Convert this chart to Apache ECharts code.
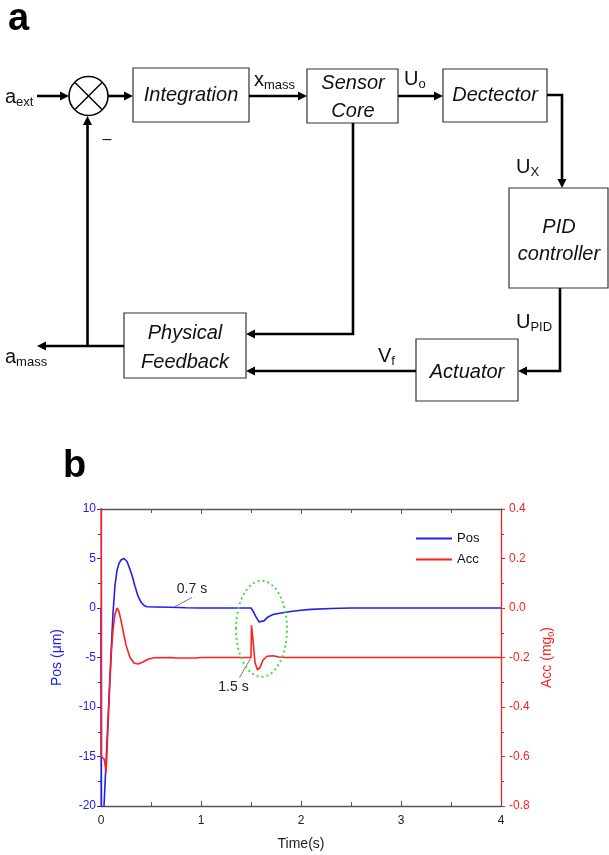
<!DOCTYPE html>
<html>
<head>
<meta charset="utf-8">
<script src="https://cdn.jsdelivr.net/npm/echarts@6/dist/echarts.min.js"></script>
<style>
  html, body { margin: 0; padding: 0; background: #fff; }
  #chart { width: 609px; height: 855px; }
</style>
</head>
<body>
<div id="chart"></div>
<script>
// 数据：位移 (µm) 与加速度 (mg0) 随时间变化
const posTime  = [0, 0.004, 0.02, 0.03, 0.06, 0.09, 0.12, 0.14, 0.16, 0.18, 0.2, 0.23, 0.26, 0.29, 0.31, 0.34, 0.37, 0.4, 0.43, 0.46, 0.55, 0.7, 0.85, 1.0, 1.5, 1.52, 1.55, 1.58, 1.6, 1.63, 1.67, 1.72, 1.8, 1.9, 2.0, 2.1, 2.3, 2.5, 4];
const posValue = [0, -28, -26, -20, -13.5, -6.8, -0.5, 2.3, 3.8, 4.5, 4.85, 5.0, 4.7, 3.9, 3.3, 2.2, 1.2, 0.6, 0.25, 0.12, 0.1, 0.07, 0.03, 0, 0, -0.3, -0.9, -1.4, -1.5, -1.3, -0.9, -0.65, -0.5, -0.35, -0.22, -0.14, -0.05, 0, 0];

const accTime  = [0, 0.004, 0.03, 0.04, 0.05, 0.06, 0.075, 0.09, 0.105, 0.12, 0.14, 0.16, 0.18, 0.2, 0.22, 0.25, 0.29, 0.33, 0.37, 0.42, 0.47, 0.53, 0.7, 0.75, 0.95, 1.0, 1.5, 1.505, 1.52, 1.54, 1.565, 1.59, 1.62, 1.66, 1.72, 1.78, 1.85, 4];
const accValue = [1.2, -0.6, -0.61, -0.63, -0.665, -0.58, -0.43, -0.29, -0.17, -0.09, -0.025, 0.0, -0.015, -0.05, -0.09, -0.15, -0.2, -0.222, -0.226, -0.218, -0.207, -0.201, -0.2, -0.202, -0.202, -0.2, -0.2, -0.07, -0.13, -0.22, -0.25, -0.24, -0.21, -0.195, -0.193, -0.198, -0.2, -0.2];

// 坐标轴范围
const timeRange = [0, 4, 1];
const posRange = [-20, 10, 5];
const accRange = [-0.8, 0.4, 0.2];

// 图中标注
const noteTexts = ['0.7 s', '1.5 s'];
const notePoints = [[0.74, 0.15], [1.505, -0.2]];

const FONT = 'Liberation Sans, Arial, sans-serif';
const BLUE = '#2020ee';
const RED = '#ff1f1f';

const chart = echarts.init(document.getElementById('chart'));

const option = {
  animation: false,
  backgroundColor: '#fff',
  textStyle: { fontFamily: FONT },
  grid: { left: 101, right: 108, top: 509, bottom: 49 },
  legend: {
    orient: 'vertical',
    left: 416,
    top: 532,
    padding: 0,
    icon: 'rect',
    itemWidth: 36,
    itemHeight: 2,
    itemGap: 8,
    textStyle: { fontSize: 13, color: '#111', fontFamily: FONT },
    data: ['Pos', 'Acc']
  },
  xAxis: [
    {
      type: 'value',
      min: timeRange[0], max: timeRange[1], interval: timeRange[2],
      name: 'Time(s)', nameLocation: 'middle', nameGap: 31,
      nameTextStyle: { fontSize: 14, color: '#222' },
      axisLine: { onZero: false, lineStyle: { color: '#555', width: 1.3 } },
      axisTick: { inside: true, length: 5, lineStyle: { color: '#555' } },
      minorTick: { show: true, splitNumber: 2, length: 4, lineStyle: { color: '#555' } },
      axisLabel: { fontSize: 12, color: '#222', margin: 9 },
      splitLine: { show: false }
    },
    {
      type: 'value', position: 'top',
      min: timeRange[0], max: timeRange[1], interval: timeRange[2],
      axisLine: { onZero: false, lineStyle: { color: '#555', width: 1.3 } },
      axisTick: { inside: true, length: 5, lineStyle: { color: '#555' } },
      minorTick: { show: true, splitNumber: 2, length: 4, lineStyle: { color: '#555' } },
      axisLabel: { show: false },
      splitLine: { show: false }
    }
  ],
  yAxis: [
    {
      type: 'value', position: 'left',
      min: posRange[0], max: posRange[1], interval: posRange[2],
      name: 'Pos (μm)', nameLocation: 'middle', nameGap: 37, nameRotate: 90,
      nameTextStyle: { fontSize: 14, color: BLUE },
      axisLine: { show: true, onZero: false, lineStyle: { color: BLUE, width: 1.3 } },
      axisTick: { show: true, length: 4, lineStyle: { color: BLUE } },
      minorTick: { show: true, splitNumber: 2, length: 3, lineStyle: { color: BLUE } },
      axisLabel: { fontSize: 12, color: BLUE, margin: 5 },
      splitLine: { show: false }
    },
    {
      type: 'value', position: 'right',
      min: accRange[0], max: accRange[1], interval: accRange[2],
      name: '{n|Acc (mg}{s|0}{n|)}', nameLocation: 'middle', nameGap: 38, nameRotate: 90,
      nameTextStyle: {
        color: RED,
        rich: {
          n: { fontSize: 14, color: RED, fontFamily: FONT },
          s: { fontSize: 9, color: RED, fontFamily: FONT, padding: [8, 0, 0, 0] }
        }
      },
      axisLine: { show: true, onZero: false, lineStyle: { color: RED, width: 1.3 } },
      axisTick: { show: true, length: 4, lineStyle: { color: RED } },
      minorTick: { show: true, splitNumber: 2, length: 3, lineStyle: { color: RED } },
      axisLabel: { fontSize: 12, color: RED, margin: 8, formatter: v => v.toFixed(1) },
      splitLine: { show: false }
    }
  ],
  series: [
    {
      name: 'Pos', type: 'line', xAxisIndex: 0, yAxisIndex: 0,
      symbol: 'none', color: BLUE,
      lineStyle: { width: 1.6, color: BLUE },
      data: posTime.map((t, i) => [t, posValue[i]])
    },
    {
      name: 'Acc', type: 'line', xAxisIndex: 0, yAxisIndex: 1,
      symbol: 'none', color: RED,
      lineStyle: { width: 1.6, color: RED },
      data: accTime.map((t, i) => [t, accValue[i]])
    }
  ]
};

chart.setOption(option);

// ---------- 框图 (a) ----------
const box = (x, y, w, h) => ({
  type: 'rect', shape: { x, y, width: w, height: h },
  style: { fill: '#fff', stroke: '#333', lineWidth: 1.2 }
});
const wire = (points) => ({
  type: 'polyline', shape: { points },
  style: { stroke: '#000', lineWidth: 2.6, fill: null }
});
const head = (x, y, dir) => {
  const L = 9, W = 4.5;
  let pts;
  if (dir === 'r') pts = [[x, y], [x - L, y - W], [x - L, y + W]];
  else if (dir === 'l') pts = [[x, y], [x + L, y - W], [x + L, y + W]];
  else if (dir === 'd') pts = [[x, y], [x - W, y - L], [x + W, y - L]];
  else pts = [[x, y], [x - W, y + L], [x + W, y + L]];
  return { type: 'polygon', shape: { points: pts }, style: { fill: '#000' } };
};
const txt = (x, y, text, extra) => ({
  type: 'text', x, y,
  style: Object.assign({
    text, fontFamily: FONT, fontSize: 20, fill: '#111',
    align: 'center', verticalAlign: 'middle'
  }, extra || {})
});
const italic = (x, y, text) => txt(x, y, text, { fontStyle: 'italic' });
const subLabel = (x, y, main, sub) => ({
  type: 'text', x, y,
  style: {
    text: '{m|' + main + '}{s|' + sub + '}',
    align: 'left', verticalAlign: 'middle',
    rich: {
      m: { fontSize: 20, fontFamily: FONT, fill: '#111', color: '#111' },
      s: { fontSize: 13, fontFamily: FONT, fill: '#111', color: '#111', padding: [11, 0, 0, 0] }
    }
  }
});

const cx = 88.5, cy = 96, cr = 19.5, d = cr * 0.707;
const diagram = [
  txt(8, 20, 'a', { fontSize: 38, fontWeight: 'bold', align: 'left', fill: '#000' }),
  txt(63, 467, 'b', { fontSize: 38, fontWeight: 'bold', align: 'left', fill: '#000' }),

  // 求和节点
  { type: 'circle', shape: { cx, cy, r: cr }, style: { fill: '#fff', stroke: '#000', lineWidth: 1.6 } },
  { type: 'line', shape: { x1: cx - d, y1: cy - d, x2: cx + d, y2: cy + d }, style: { stroke: '#000', lineWidth: 1.4 } },
  { type: 'line', shape: { x1: cx - d, y1: cy + d, x2: cx + d, y2: cy - d }, style: { stroke: '#000', lineWidth: 1.4 } },

  // 方框
  box(133, 68, 116, 54),
  box(307, 69, 91, 54),
  box(443, 69, 104, 53),
  box(509, 188, 99, 100),
  box(416, 339, 102, 62),
  box(124, 313, 122, 65),

  // 连线
  wire([[37, 96], [63, 96]]), head(69, 96, 'r'),
  wire([[108, 96], [127, 96]]), head(133, 96, 'r'),
  wire([[249, 96], [301, 96]]), head(307, 96, 'r'),
  wire([[398, 96], [437, 96]]), head(443, 96, 'r'),
  wire([[547, 95], [562, 95], [562, 181]]), head(562, 188, 'd'),
  wire([[560, 288], [560, 371], [524, 371]]), head(518, 371, 'l'),
  wire([[416, 371], [252, 371]]), head(246, 371, 'l'),
  wire([[353, 123], [353, 334], [252, 334]]), head(246, 334, 'l'),
  wire([[124, 346], [43, 346]]), head(37, 346, 'l'),
  wire([[87.5, 346], [87.5, 122]]), head(87.5, 116, 'u'),

  // 方框文字
  italic(191, 95, 'Integration'),
  italic(353, 83, 'Sensor'),
  italic(353, 111, 'Core'),
  italic(495, 95, 'Dectector'),
  italic(559, 227, 'PID'),
  italic(559, 254, 'controller'),
  italic(467, 372, 'Actuator'),
  italic(185, 333, 'Physical'),
  italic(185, 362, 'Feedback'),

  // 信号名
  subLabel(5, 97, 'a', 'ext'),
  subLabel(254, 80, 'x', 'mass'),
  subLabel(404, 79, 'U', 'o'),
  subLabel(516, 167, 'U', 'X'),
  subLabel(516, 322, 'U', 'PID'),
  subLabel(378, 356, 'V', 'f'),
  subLabel(5, 357, 'a', 'mass'),
  txt(107, 140, '–', { fontSize: 16 })
];

// ---------- 曲线图标注 ----------
const px = (t, v) => chart.convertToPixel({ xAxisIndex: 0, yAxisIndex: 0 }, [t, v]);
const pxAcc = (t, v) => chart.convertToPixel({ xAxisIndex: 0, yAxisIndex: 1 }, [t, v]);

const p07 = px(notePoints[0][0], notePoints[0][1]);
const p15 = pxAcc(notePoints[1][0], notePoints[1][1]);
const ellC = px(1.605, -2.1);
const ellEdge = px(1.86, -2.1 + 4.85);

const notes = [
  { type: 'line', shape: { x1: p07[0], y1: p07[1], x2: p07[0] + 17, y2: p07[1] - 9 }, style: { stroke: '#777', lineWidth: 1 } },
  txt(p07[0] + 17, p07[1] - 17, noteTexts[0], { fontSize: 14, fill: '#222' }),
  { type: 'line', shape: { x1: p15[0] - 1, y1: p15[1] + 1, x2: p15[0] - 12, y2: p15[1] + 20 }, style: { stroke: '#777', lineWidth: 1 } },
  txt(p15[0] - 18, p15[1] + 30, noteTexts[1], { fontSize: 14, fill: '#222' }),
  {
    type: 'ellipse',
    shape: { cx: ellC[0], cy: ellC[1], rx: ellEdge[0] - ellC[0], ry: ellC[1] - ellEdge[1] },
    style: { fill: null, stroke: '#3ee03e', lineWidth: 2, lineDash: [2, 3] },
    z: 10
  }
];

chart.setOption({ graphic: diagram.concat(notes) });
</script>
</body>
</html>
